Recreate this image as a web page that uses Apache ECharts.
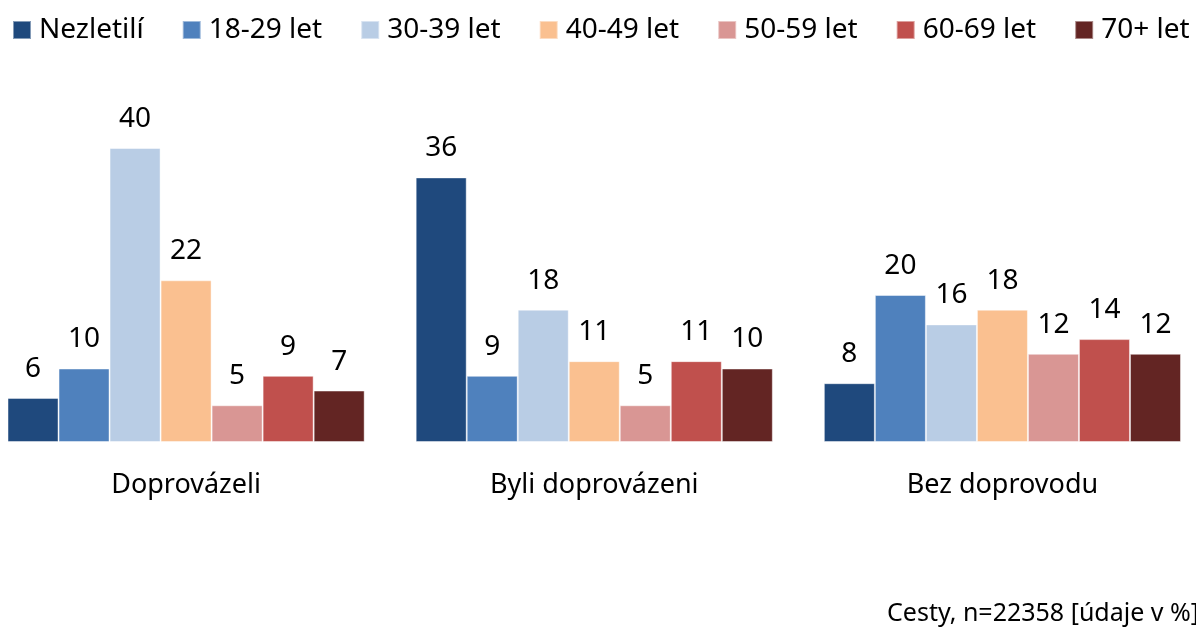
<!DOCTYPE html>
<html>
<head>
<meta charset="utf-8">
<script src="https://cdn.jsdelivr.net/npm/echarts@6/dist/echarts.min.js"></script>
<style>
  html, body { margin: 0; padding: 0; background: #fff; overflow: hidden; width: 1196px; height: 628px; position: relative; }
  /* the plot runs slightly past both window edges, so the canvas is widened and shifted left */
  #chart { position: absolute; left: -18px; top: 0; width: 1232px; height: 628px; }
</style>
</head>
<body>
<div id="chart"></div>
<script>
// Skupiny cest a věkové kategorie
const categories = ['Doprovázeli', 'Byli doprovázeni', 'Bez doprovodu'];
const seriesNames = ['Nezletilí', '18-29 let', '30-39 let', '40-49 let', '50-59 let', '60-69 let', '70+ let'];
const colors = ['#1f497d', '#4f81bd', '#b9cde5', '#fac090', '#d99694', '#c0504d', '#632523'];

// Podíly v % pro každou věkovou skupinu (pořadí dle categories)
const nezletili = [6, 36, 8];
const let18_29 = [10, 9, 20];
const let30_39 = [40, 18, 16];
const let40_49 = [22, 11, 18];
const let50_59 = [5, 5, 12];
const let60_69 = [9, 11, 14];
const let70plus = [7, 10, 12];

const values = [nezletili, let18_29, let30_39, let40_49, let50_59, let60_69, let70plus];

const FONT = '"Noto Sans", "Open Sans", sans-serif';
const SHIFT = 18; // canvas offset to the left of the window

const chart = echarts.init(document.getElementById('chart'), null, { renderer: 'canvas' });

chart.setOption({
  animation: false,
  color: colors,
  legend: {
    top: 16,
    left: 12 + SHIFT,
    padding: 0,
    itemWidth: 18,
    itemHeight: 18,
    itemGap: 38,
    icon: 'rect',
    textStyle: { fontFamily: FONT, fontSize: 28, color: '#000', padding: [0, 0, 0, 3] },
    data: seriesNames
  },
  grid: { left: 0, right: 7.5, top: 148, bottom: 186 },
  xAxis: {
    type: 'category',
    data: categories,
    axisLine: { show: false },
    axisTick: { show: false },
    axisLabel: { fontFamily: FONT, fontSize: 27, color: '#000', margin: 27, lineHeight: 32 }
  },
  yAxis: {
    type: 'value',
    min: 0,
    max: 40,
    show: false,
    splitLine: { show: false }
  },
  graphic: [{
    type: 'text',
    right: 15,
    top: 601,
    style: { text: 'Cesty, n=22358 [údaje v %]', font: '25px ' + FONT, fill: '#000' }
  }],
  series: seriesNames.map((name, i) => ({
    name,
    type: 'bar',
    data: values[i],
    barGap: '0%',
    barCategoryGap: '12.5%',
    itemStyle: { color: colors[i], borderColor: 'rgba(255,255,255,0.45)', borderWidth: 1 },
    label: {
      show: true,
      position: 'top',
      distance: 13,
      fontFamily: FONT,
      fontSize: 28,
      lineHeight: 32,
      color: '#000'
    }
  }))
});
</script>
</body>
</html>
